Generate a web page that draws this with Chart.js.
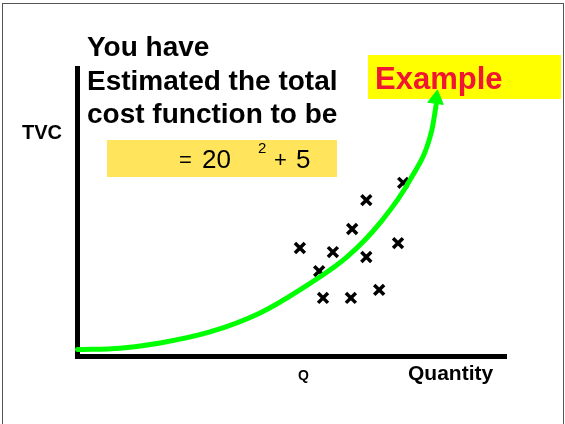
<!DOCTYPE html>
<html>
<head>
<meta charset="utf-8">
<script src="https://cdn.jsdelivr.net/npm/chart.js"></script>
<style>
  html, body { margin: 0; padding: 0; background: #fff; }
  #wrap { position: relative; width: 565px; height: 424px; overflow: hidden; }
  #frame { position: absolute; left: 2px; top: 3px; width: 560px; height: 440px; border: 1px solid #555; }
  canvas { position: absolute; left: 0; top: 0; }
</style>
</head>
<body>
<div id="wrap">
  <div id="frame"></div>
  <canvas id="c" width="565" height="424"></canvas>
</div>
<script>
// estimated TVC curve
var curveQ   = [0, 0.99, 1.93, 3.09, 4.26, 5.19, 6.29, 7.06, 7.76, 8.27, 8.37];
var curveTVC = [2.4, 2.9, 4.7, 8.5, 15.1, 23.1, 34.5, 46.3, 61.2, 78.5, 87.2];
// arrow head sitting on the end of the curve
var arrowQ   = [8.37];
var arrowTVC = [89.3];
// observed data ("x" marks)
var obsQ   = [7.60, 6.74, 6.41, 5.19, 5.96, 7.48, 6.74, 5.64, 7.04, 5.73, 6.38];
var obsTVC = [60.2, 54.2, 44.2, 37.6, 36.2, 39.3, 34.5, 29.6, 23.1, 20.3, 20.3];

var headingLines = ["You have", "Estimated the total", "cost function to be"];
var yLabel = "TVC";
var xLabel = "Quantity";
var qLabel = "Q";
var boxLabel = "Example";

function toPoints(xs, ys) {
  return xs.map(function(x, i) { return {x: x, y: ys[i]}; });
}

var font = '"Liberation Sans", Arial, sans-serif';
var green = "#00ff00";

// text and coloured boxes of the slide, under the curve
var slideText = {
  id: "slideText",
  beforeDatasetsDraw: function(chart) {
    var ctx = chart.ctx;
    ctx.save();
    ctx.fillStyle = "#ffe45c";
    ctx.fillRect(107, 140, 230, 37);
    ctx.fillStyle = "#ffff00";
    ctx.fillRect(368, 55, 193, 44);

    ctx.textAlign = "left";
    ctx.textBaseline = "alphabetic";
    ctx.fillStyle = "#000";
    ctx.font = "bold 28px " + font;
    ctx.fillText(headingLines[0], 87, 56);
    ctx.fillText(headingLines[1], 87, 90);
    ctx.fillText(headingLines[2], 87, 123);

    ctx.font = "bold 20px " + font;
    ctx.fillText(yLabel, 22, 139);

    // the formula
    ctx.font = "26px " + font;
    ctx.fillText("20", 202, 168);
    ctx.fillText("5", 296, 168);
    ctx.font = "22px " + font;
    ctx.fillText("=", 179, 167);
    ctx.fillText("+", 274, 167);
    ctx.font = "15px " + font;
    ctx.fillText("2", 258, 153);

    ctx.font = "bold 14px " + font;
    ctx.fillText(qLabel, 298, 380);
    ctx.font = "bold 21px " + font;
    ctx.fillText(xLabel, 408, 380);

    ctx.fillStyle = "#f01530";
    ctx.font = "bold 31px " + font;
    ctx.fillText(boxLabel, 375, 89);
    ctx.restore();
  }
};

new Chart("c", {
  type: "scatter",
  data: {
    datasets: [{
      type: "line",
      data: toPoints(curveQ, curveTVC),
      borderColor: green,
      borderWidth: 5,
      borderCapStyle: "round",
      pointRadius: 0,
      cubicInterpolationMode: "monotone",
      fill: false,
      clip: false
    }, {
      data: toPoints(arrowQ, arrowTVC),
      pointStyle: "triangle",
      pointRadius: 9,
      rotation: 8,
      backgroundColor: green,
      borderColor: green,
      borderWidth: 1,
      clip: false
    }, {
      data: toPoints(obsQ, obsTVC),
      pointStyle: "crossRot",
      pointRadius: 7,
      borderColor: "#000",
      borderWidth: 3.5
    }]
  },
  options: {
    responsive: false,
    animation: false,
    events: [],
    layout: {padding: {left: 77.5, right: 59, top: 68, bottom: 67.5}},
    plugins: {legend: {display: false}, tooltip: {enabled: false}},
    scales: {
      x: {
        type: "linear", min: 0, max: 10,
        grid: {display: false, drawTicks: false},
        ticks: {display: false},
        border: {display: true, width: 5, color: "#000"}
      },
      y: {
        min: 0, max: 100,
        grid: {display: false, drawTicks: false},
        ticks: {display: false},
        border: {display: true, width: 5, color: "#000"}
      }
    }
  },
  plugins: [slideText]
});
</script>
</body>
</html>
